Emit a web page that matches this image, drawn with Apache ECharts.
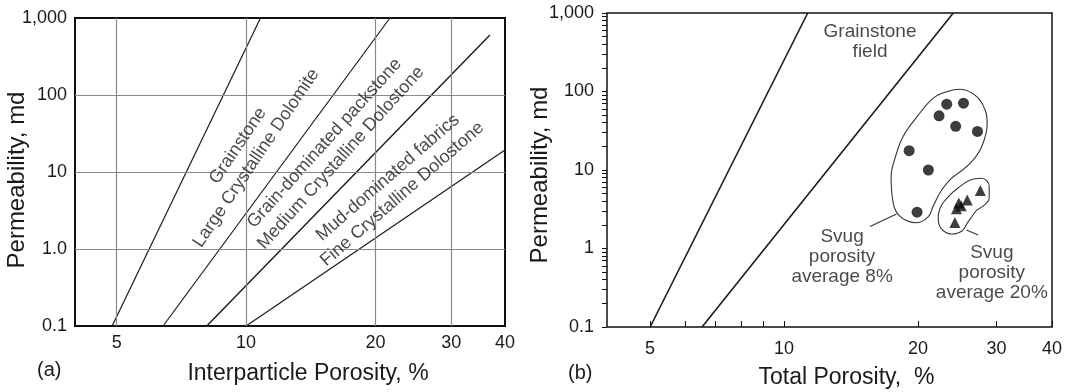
<!DOCTYPE html>
<html>
<head>
<meta charset="utf-8">
<script src="https://cdn.jsdelivr.net/npm/echarts@6/dist/echarts.min.js"></script>
<style>
html,body{margin:0;padding:0;background:#fff;}
#chart{width:1067px;height:392px;}
</style>
</head>
<body>
<div id="chart"></div>
<script>
// ---------- data ----------
const xTickValues = [5, 10, 20, 30, 40];
const xGridA = [5, 10, 20, 30];
const yGridA = [1, 10, 100];
const yTickValues = [0.1, 1, 10, 100, 1000];
const yTickLabelsA = ['0.1', '1.0', '10', '100', '1,000'];
const yTickLabelsB = ['0.1', '1', '10', '100', '1,000'];
const xMinorTicksB = [5, 6, 7, 8, 9, 10, 20, 30, 40];
const yMinorTicksB = [0.1,0.2,0.3,0.4,0.5,0.6,0.7,0.8,0.9,1,2,3,4,5,6,7,8,9,10,20,30,40,50,60,70,80,90,100,200,300,400,500,600,700,800,900,1000];

// panel (a) field boundaries [porosity %, permeability md]
const lineGrainstoneA = [[4.88, 0.1], [10.8, 1000]];
const linePackstoneA  = [[6.41, 0.1], [21.6, 1000]];
const lineMudA        = [[8.1, 0.1], [36.9, 600]];
const lineFineA       = [[10, 0.1], [40, 19.3]];

// panel (b) field boundaries
const lineLeftB  = [[5, 0.1], [11.3, 1000]];
const lineRightB = [[6.54, 0.1], [24, 1000]];

// panel (b) samples
const circlesB = [[23.2, 69], [25.3, 71], [22.3, 49], [24.3, 36], [27.2, 31], [19.1, 17.6], [21.1, 10], [19.9, 2.9]];
const trianglesB = [[27.6, 5.5], [25.8, 4.15], [24.7, 3.8], [24.4, 3.2], [25.0, 3.5], [24.2, 2.15]];

// envelopes drawn around the sample groups
const envelopeCircles = [[24.0,8.22],[22.6,5.56],[21.6,3.41],[21.1,2.54],[19.9,2.13],[18.1,2.67],[17.5,4.57],[17.4,8.22],[17.8,14.8],[18.5,26.6],[19.9,47.8],[21.6,81.9],[23.2,99.4],[24.9,106.7],[27.1,85.9],[28.3,58.1],[28.6,39.4],[27.8,19.8],[26.2,12.2],[24.0,8.22]];
const envelopeTriangles = [[27.1,3.09],[25.9,2.18],[25.1,1.67],[23.8,1.53],[22.5,1.82],[22.2,2.52],[22.6,3.58],[23.6,4.81],[24.6,5.90],[26.2,7.46],[27.8,7.84],[28.9,6.25],[28.9,4.40],[27.1,3.09]];
const leaderCircles = [[15.6, 1.90], [17.9, 2.75]];
const leaderTriangles = [[25.7, 1.72], [27.3, 1.49]];

// annotations: [text, anchor x, anchor y, rotation]
const annotationsA = [
  ['Grainstone\nLarge Crystalline Dolomite', 10.05, 18.2, 56],
  ['Grain-dominated packstone\nMedium Crystalline Dolostone', 15.9, 19.0, 48],
  ['Mud-dominated fabrics\nFine Crystalline Dolostone', 22.2, 6.6, 41]
];
const annotationsB = [
  ['Grainstone\nfield', 15.6, 427],
  ['Svug\nporosity\naverage 8%', 13.5, 0.78],
  ['Svug\nporosity\naverage 20%', 29.3, 0.49]
];

// ---------- chart ----------
const FONT = '"Liberation Sans", Arial, sans-serif';
const INK = '#1a1a1a';
const chart = echarts.init(document.getElementById('chart'), null, {renderer: 'canvas'});

function yFmt(labels) {
  return function (v) { return labels[Math.round(Math.log10(v)) + 1]; };
}

function lineSeries(data, xi, width, extra) {
  return Object.assign({
    type: 'line', xAxisIndex: xi, yAxisIndex: xi, data: data,
    showSymbol: false, symbol: 'none', silent: true,
    lineStyle: {color: INK, width: width}, z: 3
  }, extra || {});
}

function textSeries(items, xi, fontSize, lineHeight, withRotate) {
  return {
    type: 'scatter', xAxisIndex: xi, yAxisIndex: xi, symbolSize: 0, silent: true, z: 5,
    data: items.map(a => ({
      value: [a[1], a[2]],
      label: {
        show: true, position: 'inside', formatter: a[0],
        rotate: withRotate ? a[3] : 0,
        fontFamily: FONT, fontSize: fontSize, lineHeight: lineHeight,
        color: INK, align: 'center', verticalAlign: 'middle'
      }
    }))
  };
}

const option = {
  animation: false,
  backgroundColor: '#ffffff',
  grid: [
    {left: 75, top: 18, width: 430, height: 308, show: true, borderColor: '#111', borderWidth: 2, backgroundColor: 'transparent', containLabel: false, outerBoundsMode: 'none'},
    {left: 607, top: 13, width: 445, height: 314, show: true, borderColor: '#111', borderWidth: 1.5, backgroundColor: 'transparent', containLabel: false, outerBoundsMode: 'none'}
  ],
  xAxis: [
    {
      type: 'log', logBase: 10, gridIndex: 0, min: 4, max: 40,
      name: 'Interparticle Porosity, %', nameLocation: 'middle', nameGap: 36, nameMoveOverlap: false,
      nameTextStyle: {fontFamily: FONT, fontSize: 23, color: INK, padding: [0, 0, 0, 36]},
      axisLine: {show: false}, axisTick: {show: false}, splitLine: {show: false}, minorTick: {show: false},
      axisLabel: {customValues: xTickValues, fontFamily: FONT, fontSize: 18, color: INK, margin: 8, showMinLabel: true, showMaxLabel: true, hideOverlap: false}
    },
    {
      type: 'log', logBase: 10, gridIndex: 1, min: 4, max: 40,
      name: 'Total Porosity,  %', nameLocation: 'middle', nameGap: 39, nameMoveOverlap: false,
      nameTextStyle: {fontFamily: FONT, fontSize: 23, color: INK, padding: [0, 0, 0, 34]},
      axisLine: {show: false},
      axisTick: {show: true, inside: true, length: 6, customValues: xMinorTicksB, lineStyle: {color: '#111', width: 1}},
      splitLine: {show: false}, minorTick: {show: false},
      axisLabel: {customValues: xTickValues, fontFamily: FONT, fontSize: 18, color: INK, margin: 13, hideOverlap: false}
    }
  ],
  yAxis: [
    {
      type: 'log', logBase: 10, gridIndex: 0, min: 0.1, max: 1000,
      name: 'Permeability, md', nameLocation: 'middle', nameGap: 46, nameRotate: 90, nameMoveOverlap: false,
      nameTextStyle: {fontFamily: FONT, fontSize: 24, color: INK, padding: [0, 16, 0, 0]},
      axisLine: {show: false}, axisTick: {show: false}, splitLine: {show: false}, minorTick: {show: false},
      axisLabel: {customValues: yTickValues, formatter: yFmt(yTickLabelsA), fontFamily: FONT, fontSize: 18, color: INK, margin: 8, hideOverlap: false}
    },
    {
      type: 'log', logBase: 10, gridIndex: 1, min: 0.1, max: 1000,
      name: 'Permeability, md', nameLocation: 'middle', nameGap: 55, nameRotate: 90, nameMoveOverlap: false,
      nameTextStyle: {fontFamily: FONT, fontSize: 24, color: INK, padding: [0, 10, 0, 0]},
      axisLine: {show: false},
      axisTick: {show: true, inside: false, length: 5, customValues: yMinorTicksB, lineStyle: {color: '#111', width: 1}},
      splitLine: {show: false}, minorTick: {show: false},
      axisLabel: {customValues: yTickValues, formatter: yFmt(yTickLabelsB), fontFamily: FONT, fontSize: 18, color: INK, margin: 13, hideOverlap: false}
    }
  ],
  graphic: [
    {type: 'text', left: 37, top: 360, style: {text: '(a)', fontFamily: FONT, fontSize: 20, fill: INK}},
    {type: 'text', left: 568, top: 363, style: {text: '(b)', fontFamily: FONT, fontSize: 20, fill: INK}}
  ],
  series: [
    // panel (a)
    lineSeries(lineGrainstoneA, 0, 1.2, {
      markLine: {
        silent: true, symbol: 'none', animation: false, label: {show: false},
        lineStyle: {color: '#8a8a8a', width: 1.2, type: 'solid'},
        data: xGridA.map(v => ({xAxis: v})).concat(yGridA.map(v => ({yAxis: v})))
      }
    }),
    lineSeries(linePackstoneA, 0, 1.2),
    lineSeries(lineMudA, 0, 1.4),
    lineSeries(lineFineA, 0, 1.2),
    textSeries(annotationsA, 0, 18, 22, true),
    // panel (b)
    lineSeries(lineLeftB, 1, 1.6),
    lineSeries(lineRightB, 1, 1.6),
    lineSeries(envelopeCircles, 1, 1.1, {smooth: 0.4, lineStyle: {color: '#333', width: 1.1}}),
    lineSeries(envelopeTriangles, 1, 1.1, {smooth: 0.4, lineStyle: {color: '#333', width: 1.1}}),
    lineSeries(leaderCircles, 1, 1.1, {lineStyle: {color: '#333', width: 1.1}}),
    lineSeries(leaderTriangles, 1, 1.1, {lineStyle: {color: '#333', width: 1.1}}),
    {type: 'scatter', xAxisIndex: 1, yAxisIndex: 1, data: circlesB, symbol: 'circle', symbolSize: 11, itemStyle: {color: '#0d0d0d'}, silent: true, z: 4},
    {type: 'scatter', xAxisIndex: 1, yAxisIndex: 1, data: trianglesB, symbol: 'triangle', symbolSize: 11, itemStyle: {color: '#0d0d0d'}, silent: true, z: 4},
    textSeries(annotationsB, 1, 19, 20, false)
  ]
};
chart.setOption(option);
</script>
</body>
</html>
